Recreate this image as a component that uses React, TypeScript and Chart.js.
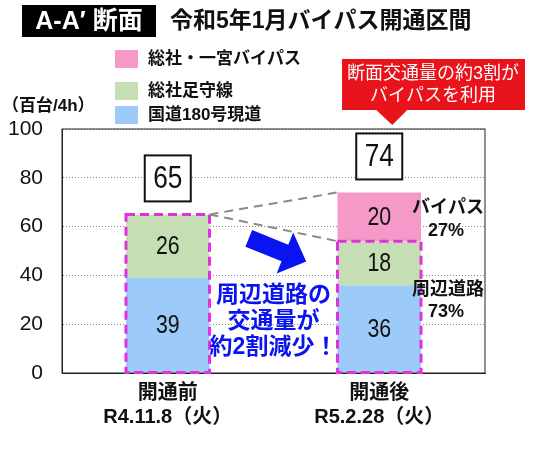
import { useEffect, useRef } from 'react';
import { Chart, registerables } from 'chart.js';

Chart.register(...registerables);

// values in 百台/4h
const categories = [['開通前', 'R4.11.8（火）'], ['開通後', 'R5.2.28（火）']];
const seriesNames = ['国道180号現道', '総社足守線', '総社・一宮バイパス'];
const kokudo = [39, 36];
const ashimori = [26, 18];
const bypass: (number | null)[] = [null, 20];
const yTicks = [0, 20, 40, 60, 80, 100];

const COLORS = ['#9ccbf9', '#c6deb4', '#f59ac8'];
const JP = '"Liberation Sans", "Noto Sans CJK JP", sans-serif';
const NUM = '"Liberation Sans", sans-serif';

function txt(ctx: CanvasRenderingContext2D, s: string, x: number, y: number, font: string, color: string, align: CanvasTextAlign = 'center') {
  ctx.font = font;
  ctx.fillStyle = color;
  ctx.textAlign = align;
  ctx.textBaseline = 'middle';
  ctx.fillText(s, x, y);
}

// narrow number look (the source uses a condensed face)
function narrow(ctx: CanvasRenderingContext2D, s: string, x: number, y: number, size: number) {
  ctx.save();
  ctx.translate(x, y);
  ctx.scale(0.82, 1);
  txt(ctx, s, 0, 0, `${size}px ${NUM}`, '#111');
  ctx.restore();
}

const overlay = {
  id: 'overlay',
  afterDatasetsDraw(chart: Chart): void {
    const { ctx, chartArea } = chart;
    const ys = chart.scales.y;
    const blue = chart.getDatasetMeta(0).data as any[];
    ctx.save();

    // plot frame
    ctx.strokeStyle = '#222';
    ctx.lineWidth = 1;
    ctx.strokeRect(chartArea.left, chartArea.top, chartArea.right - chartArea.left, chartArea.bottom - chartArea.top);

    // segment value labels
    const all = [kokudo, ashimori, bypass];
    all.forEach((vals, di) => {
      const meta = chart.getDatasetMeta(di).data as any[];
      vals.forEach((v, i) => {
        if (!v) return;
        const b = meta[i];
        narrow(ctx, String(v), b.x, (b.y + b.base) / 2 + 1, 26);
      });
    });

    const totals = kokudo.map((v, i) => v + ashimori[i] + (bypass[i] ?? 0));
    const roads = kokudo.map((v, i) => v + ashimori[i]);

    // magenta dashed frames around surrounding-road volume
    ctx.setLineDash([9, 5]);
    ctx.lineWidth = 3;
    ctx.strokeStyle = '#e030e0';
    roads.forEach((r, i) => {
      const b = blue[i];
      const top = ys.getPixelForValue(r);
      ctx.strokeRect(b.x - b.width / 2, top, b.width, b.base - top);
    });

    // grey guide lines
    ctx.setLineDash([9, 6]);
    ctx.lineWidth = 2;
    ctx.strokeStyle = '#8a8a8a';
    const x0 = blue[0].x + blue[0].width / 2;
    const y0 = ys.getPixelForValue(totals[0]);
    const x1 = blue[1].x - blue[1].width / 2;
    ctx.beginPath();
    ctx.moveTo(x0, y0);
    ctx.lineTo(x1, ys.getPixelForValue(totals[1]));
    ctx.moveTo(x0, y0);
    ctx.lineTo(x1, ys.getPixelForValue(roads[1]));
    ctx.stroke();
    ctx.setLineDash([]);

    // total boxes
    totals.forEach((t, i) => {
      const cx = blue[i].x;
      const bottom = ys.getPixelForValue(t) - 13;
      ctx.fillStyle = '#fff';
      ctx.fillRect(cx - 23, bottom - 46, 46, 46);
      ctx.strokeStyle = '#111';
      ctx.lineWidth = 2;
      ctx.strokeRect(cx - 23, bottom - 46, 46, 46);
      narrow(ctx, String(t), cx, bottom - 22, 32);
    });

    // blue arrow
    const mid = (x0 + x1) / 2;
    ctx.save();
    ctx.translate(mid + 4, 250);
    ctx.rotate((22 * Math.PI) / 180);
    ctx.fillStyle = '#0a14f0';
    ctx.beginPath();
    ctx.moveTo(-31, -9);
    ctx.lineTo(8, -9);
    ctx.lineTo(8, -22);
    ctx.lineTo(31, 0);
    ctx.lineTo(8, 22);
    ctx.lineTo(8, 9);
    ctx.lineTo(-31, 9);
    ctx.closePath();
    ctx.fill();
    ctx.restore();

    const bf = `bold 23px ${JP}`;
    ['周辺道路の', '交通量が', '約2割減少！'].forEach((s, i) => {
      txt(ctx, s, mid, 296 + i * 26, bf, '#0a14f0');
    });

    // share labels
    const rx = blue[1].x + blue[1].width / 2 + 27;
    const sf = `bold 18px ${JP}`;
    const bpShare = Math.round(((bypass[1] ?? 0) / totals[1]) * 100);
    txt(ctx, 'バイパス', rx, 208, sf, '#111');
    txt(ctx, `${bpShare}%`, rx - 2, 231, sf, '#111');
    txt(ctx, '周辺道路', rx, 290, sf, '#111');
    txt(ctx, `${100 - bpShare}%`, rx - 2, 312, sf, '#111');

    ctx.restore();
  },
  afterDraw(chart: Chart): void {
    const { ctx } = chart;
    const green = chart.getDatasetMeta(1).data as any[];
    ctx.save();
    // title
    ctx.fillStyle = '#000';
    ctx.fillRect(22, 5, 134, 32);
    txt(ctx, 'A-A′ 断面', 89, 22, `bold 25px ${JP}`, '#fff');
    txt(ctx, '令和5年1月バイパス開通区間', 170, 22, `bold 23px ${JP}`, '#111', 'left');

    // legend
    const legendY = [59, 91, 115];
    [2, 1, 0].forEach((di, k) => {
      ctx.fillStyle = COLORS[di];
      ctx.fillRect(115, legendY[k] - 9, 23, 18);
      txt(ctx, seriesNames[di], 148, legendY[k], `bold 17px ${JP}`, '#111', 'left');
    });

    txt(ctx, '（百台/4h）', 2, 106, `bold 17px ${JP}`, '#111', 'left');

    // red callout
    const cx = green[1].x + 13;
    ctx.fillStyle = '#e8131b';
    ctx.fillRect(342, 59, 183, 51);
    ctx.beginPath();
    ctx.moveTo(cx - 17, 109);
    ctx.lineTo(cx + 16, 109);
    ctx.lineTo(cx, 125);
    ctx.closePath();
    ctx.fill();
    txt(ctx, '断面交通量の約3割が', 433, 74, `18px ${JP}`, '#fff');
    txt(ctx, 'バイパスを利用', 433, 96, `18px ${JP}`, '#fff');
    ctx.restore();
  },
};

export default function App(): JSX.Element {
  const canvasRef = useRef<HTMLCanvasElement>(null);

  useEffect(() => {
    if (!canvasRef.current) return;
    const chart = new Chart(canvasRef.current, {
      type: 'bar',
      plugins: [overlay],
      data: {
        labels: categories,
        datasets: [
          { label: seriesNames[0], data: kokudo, backgroundColor: COLORS[0] },
          { label: seriesNames[1], data: ashimori, backgroundColor: COLORS[1] },
          { label: seriesNames[2], data: bypass, backgroundColor: COLORS[2] },
        ],
      },
      options: {
        animation: false,
        responsive: true,
        maintainAspectRatio: false,
        datasets: { bar: { barPercentage: 0.395, categoryPercentage: 1 } },
        layout: { padding: { left: 0, top: 129, right: 61, bottom: 0 } },
        plugins: { legend: { display: false }, tooltip: { enabled: false } },
        scales: {
          x: {
            stacked: true,
            afterFit: (s: any) => { s.height = 76; },
            grid: { display: false, drawTicks: false },
            border: { color: '#222', width: 1 },
            ticks: { color: '#111', padding: 8, font: { family: JP, size: 20, weight: 'bold' } },
          },
          y: {
            stacked: true,
            min: yTicks[0],
            max: yTicks[yTicks.length - 1],
            afterFit: (s: any) => { s.width = 62; },
            afterBuildTicks: (s: any) => { s.ticks = yTicks.map(v => ({ value: v })); },
            grid: { color: '#888', drawTicks: false, lineWidth: 1 },
            border: { color: '#222', width: 1, dash: [1, 2] },
            ticks: { color: '#111', padding: 19, font: { family: '"Liberation Sans", sans-serif', size: 21 } },
          },
        },
      },
    });
    return () => { chart.destroy(); };
  }, []);

  return (
    <div style={{ position: 'fixed', left: 0, top: 0, width: 546, height: 449, background: '#fff' }}>
      <canvas ref={canvasRef} role="img" aria-label="令和5年1月バイパス開通区間 断面交通量の比較" />
    </div>
  );
}
